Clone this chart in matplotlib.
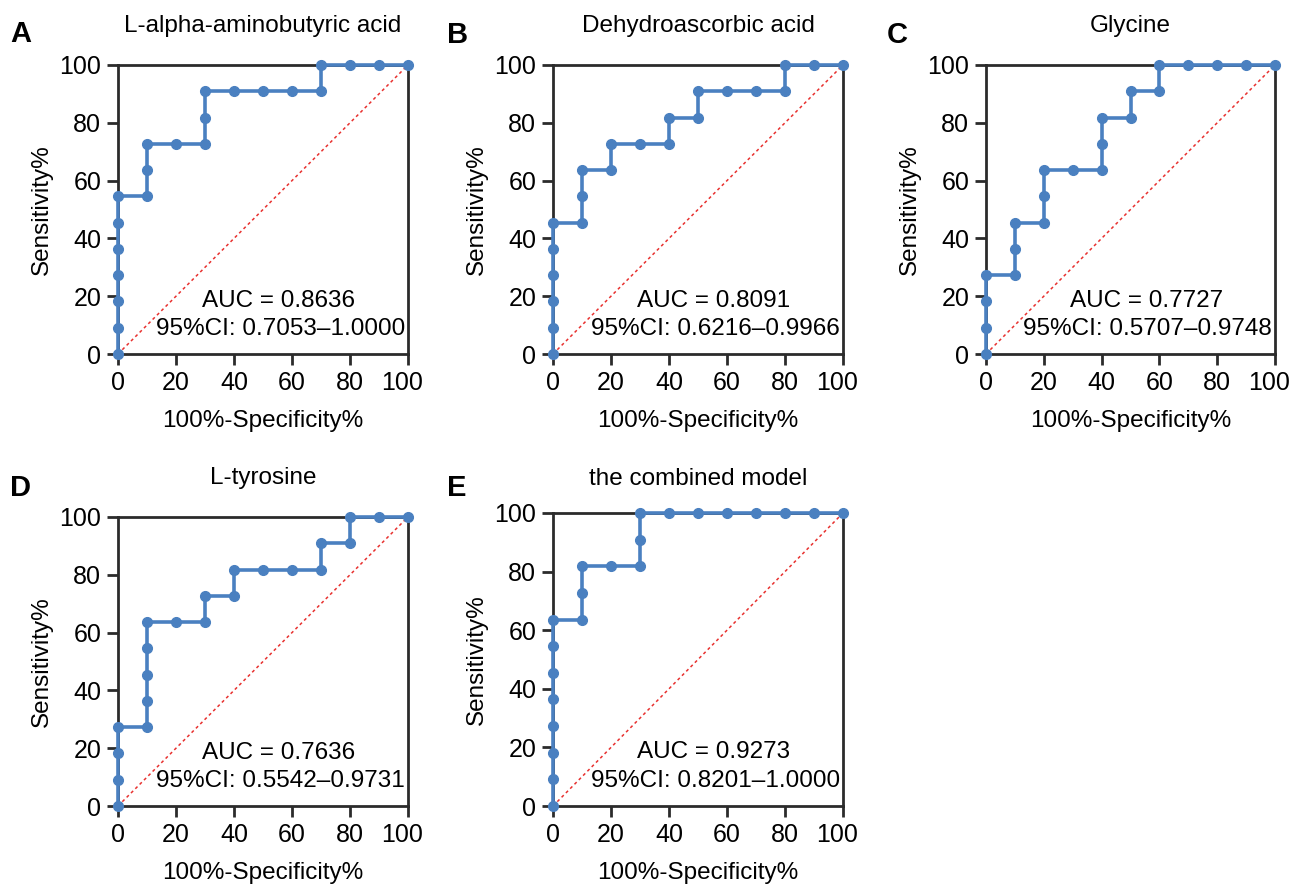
import matplotlib
matplotlib.use("Agg")
import matplotlib.pyplot as plt
from matplotlib.transforms import ScaledTranslation

plt.rcParams['font.family'] = ['Liberation Sans', 'DejaVu Sans']

titles = ["L-alpha-aminobutyric acid", "Dehydroascorbic acid", "Glycine",
          "L-tyrosine", "the combined model"]
letters = ["A", "B", "C", "D", "E"]
auc_text = ["AUC = 0.8636", "AUC = 0.8091", "AUC = 0.7727", "AUC = 0.7636", "AUC = 0.9273"]
ci_text = ["95%CI: 0.7053\u20131.0000", "95%CI: 0.6216\u20130.9966", "95%CI: 0.5707\u20130.9748",
           "95%CI: 0.5542\u20130.9731", "95%CI: 0.8201\u20131.0000"]

fpr_A = [0, 0, 0, 0, 0, 0, 0, 10, 10, 10, 20, 30, 30, 30, 40, 50, 60, 70, 70, 80, 90, 100]
tpr_A = [0, 9.09, 18.18, 27.27, 36.36, 45.45, 54.55, 54.55, 63.64, 72.73, 72.73, 72.73,
         81.82, 90.91, 90.91, 90.91, 90.91, 90.91, 100, 100, 100, 100]

fpr_B = [0, 0, 0, 0, 0, 0, 10, 10, 10, 20, 20, 30, 40, 40, 50, 50, 60, 70, 80, 80, 90, 100]
tpr_B = [0, 9.09, 18.18, 27.27, 36.36, 45.45, 45.45, 54.55, 63.64, 63.64, 72.73, 72.73,
         72.73, 81.82, 81.82, 90.91, 90.91, 90.91, 90.91, 100, 100, 100]

fpr_C = [0, 0, 0, 0, 10, 10, 10, 20, 20, 20, 30, 40, 40, 40, 50, 50, 60, 60, 70, 80, 90, 100]
tpr_C = [0, 9.09, 18.18, 27.27, 27.27, 36.36, 45.45, 45.45, 54.55, 63.64, 63.64, 63.64,
         72.73, 81.82, 81.82, 90.91, 90.91, 100, 100, 100, 100, 100]

fpr_D = [0, 0, 0, 0, 10, 10, 10, 10, 10, 20, 30, 30, 40, 40, 50, 60, 70, 70, 80, 80, 90, 100]
tpr_D = [0, 9.09, 18.18, 27.27, 27.27, 36.36, 45.45, 54.55, 63.64, 63.64, 63.64, 72.73,
         72.73, 81.82, 81.82, 81.82, 81.82, 90.91, 90.91, 100, 100, 100]

fpr_E = [0, 0, 0, 0, 0, 0, 0, 0, 10, 10, 10, 20, 30, 30, 30, 40, 50, 60, 70, 80, 90, 100]
tpr_E = [0, 9.09, 18.18, 27.27, 36.36, 45.45, 54.55, 63.64, 63.64, 72.73, 81.82, 81.82,
         81.82, 90.91, 100, 100, 100, 100, 100, 100, 100, 100]

ticks = [0, 20, 40, 60, 80, 100]
fprs = [fpr_A, fpr_B, fpr_C, fpr_D, fpr_E]
tprs = [tpr_A, tpr_B, tpr_C, tpr_D, tpr_E]

W, H = 1291, 884
fig = plt.figure(figsize=(W / 100, H / 100), dpi=100)

# pixel boxes (left, top, right, bottom)
boxes = [(118, 65, 408, 354), (553, 65, 843, 354), (986, 65, 1275, 354),
         (118, 517, 408, 806), (553, 513, 843, 806)]
letter_pos = [(10, 34), (447, 35), (887, 35), (10, 488), (447, 488)]
title_pads = [24, 24, 24, 24, 20]

blue = "#4A80C0"
spine_c = "#2b2b2b"

for i in range(5):
    l, t, r, b = boxes[i]
    ax = fig.add_axes([l / W, 1 - b / H, (r - l) / W, (b - t) / H])
    ax.plot([0, 100], [0, 100], ls=(0, (2, 2)), color="#E8312F", lw=1.1, zorder=2)
    ax.plot(fprs[i], tprs[i], color=blue, lw=2.6, marker='o', ms=7,
            clip_on=False, zorder=3)
    ax.set_xlim(0, 100)
    ax.set_ylim(0, 100)
    ax.set_xticks(ticks)
    ax.set_yticks(ticks)
    for s in ax.spines.values():
        s.set_linewidth(2.0)
        s.set_color(spine_c)
    ax.tick_params(direction='out', length=8, width=2, color=spine_c,
                   labelsize=18, pad=4)
    ax.set_xlabel("100%-Specificity%", fontsize=17.5, labelpad=11)
    ax.set_ylabel("Sensitivity%", fontsize=17.5, labelpad=5)
    ax.set_title(titles[i], fontsize=17.5, pad=title_pads[i])
    ax.text(55.5, 18.5, auc_text[i], ha='center', va='center', fontsize=17.5)
    ax.text(56, 8.5, ci_text[i], ha='center', va='center', fontsize=17.5)
    lx, ly = letter_pos[i]
    fig.text(lx / W, 1 - ly / H, letters[i], fontsize=21,
             fontweight='bold', ha='left', va='center')
    last = ax.get_xticklabels()[-1]
    last.set_transform(last.get_transform() +
                       ScaledTranslation(-6 / 100, 0, fig.dpi_scale_trans))

fig.savefig("out.png", dpi=100)
